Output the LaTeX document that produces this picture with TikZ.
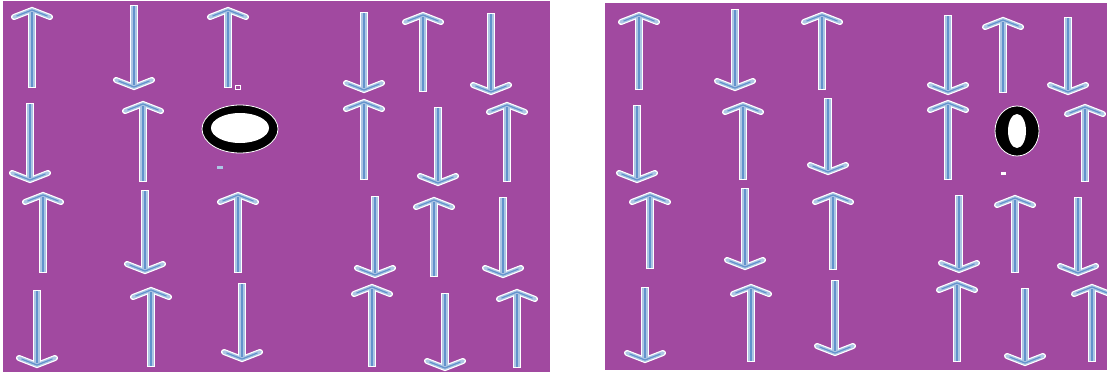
\documentclass[tikz,border=0pt]{standalone}
\usetikzlibrary{calc}
\definecolor{panelpurple}{RGB}{161,73,160}
\definecolor{spinfill}{RGB}{172,198,228}
\definecolor{spincore}{RGB}{98,146,204}
\tikzset{
  panel/.style={fill=panelpurple, draw=none},
  shaftedge/.style={draw=white, line width=8.5pt, line cap=butt},
  shaftbody/.style={draw=spinfill, line width=5.5pt, line cap=butt},
  shaftcore/.style={draw=spincore, line width=1.6pt, line cap=butt},
  barbedge/.style={draw=white, line width=6pt, line cap=round, line join=miter},
  barbbody/.style={draw=spinfill, line width=3.6pt, line cap=round, line join=miter},
  barbcore/.style={draw=spincore, line width=1.2pt, line cap=round, line join=miter},
  ringblack/.style={fill=black, draw=white, line width=0.8pt},
  ringhole/.style={fill=white, draw=none},
  speck/.style={fill=white, draw=none},
}
% one spin arrow: x, tail y, tip y (y grows downwards)
\newcommand{\spinarrow}[3]{%
  \coordinate (tail) at (#1,#2);
  \coordinate (tip) at (#1,#3);
  \coordinate (shaftend) at ($(tip)!2pt!(tail)$);
  \coordinate (barb) at ($(tip)!7pt!(tail)$);
  \coordinate (lbarb) at ([xshift=-18pt]barb);
  \coordinate (rbarb) at ([xshift=18pt]barb);
  \draw[shaftedge] (tail) -- (shaftend);
  \draw[barbedge] (lbarb) -- (tip) -- (rbarb);
  \draw[shaftbody] ($(tail)!1pt!(tip)$) -- (shaftend);
  \draw[barbbody] (lbarb) -- (tip) -- (rbarb);
  \draw[shaftcore] ($(tail)!1pt!(tip)$) -- (shaftend);
  \draw[barbcore] ($(lbarb)!3pt!(tip)$) -- (tip) -- ($(rbarb)!3pt!(tip)$);
}
\begin{document}
\begin{tikzpicture}[x=1pt,y=-1pt]
  \useasboundingbox (0,0) rectangle (1107,375);
  \fill[white] (0,0) rectangle (1107,375);

  % left lattice
  \begin{scope}
    \fill[panel] (3,1) rectangle (550,372);
    \clip (3,1) rectangle (550,372);
    \foreach \x/\a/\b in {
      32/88/10, 134/5/87, 228/88/10, 364/12/90, 423/92/15, 491/13/92,
      30/103/180, 143/182/104, 364/180/102, 438/107/183, 507/182/105,
      43/273/195, 145/190/271, 238/273/195, 375/196/275, 434/277/200, 503/197/275,
      37/290/365, 151/367/290, 242/283/359, 372/367/287, 445/293/368, 517/368/292}
      {\spinarrow{\x}{\a}{\b}}
    % vacancy
    \path[ringblack] (240,129) ellipse [x radius=38, y radius=24];
    \path[ringhole] (240,128) ellipse [x radius=29, y radius=15];
    \draw[white, line width=0.8pt] (235,85) rectangle (240,89);
    \fill[spinfill] (217,166) rectangle (223,169);
  \end{scope}

  % right lattice
  \begin{scope}
    \fill[panel] (605,3) rectangle (1107,370);
    \clip (605,3) rectangle (1107,370);
    \foreach \x/\a/\b in {
      639/90/15, 735/9/88, 822/90/15, 948/15/92, 1003/93/20, 1068/17/92,
      637/105/180, 743/180/105, 828/98/172, 948/180/103, 1085/182/107,
      650/269/195, 745/188/267, 833/270/195, 959/195/270, 1015/273/198, 1078/197/273,
      645/287/360, 751/362/287, 835/280/353, 957/362/283, 1025/288/363, 1092/362/287}
      {\spinarrow{\x}{\a}{\b}}
    % vacancy
    \path[ringblack] (1017,131) ellipse [x radius=22, y radius=25];
    \path[ringhole] (1017,131) ellipse [x radius=9, y radius=17];
    \fill[speck] (1001,172) rectangle (1006,175);
  \end{scope}
\end{tikzpicture}
\end{document}
